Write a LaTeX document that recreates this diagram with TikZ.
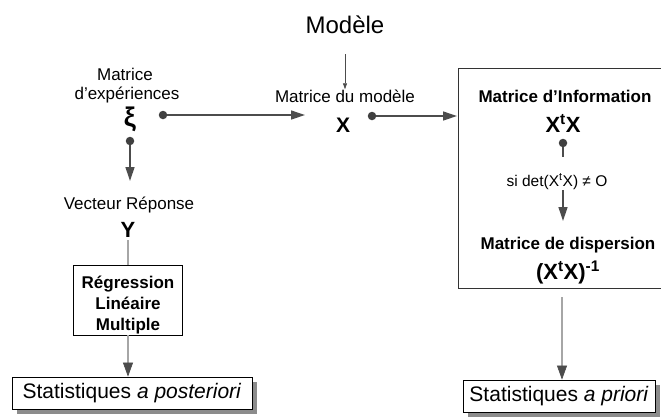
\documentclass[tikz,border=0pt]{standalone}
\usepackage{fontspec}
\setmainfont{Liberation Sans}
\usetikzlibrary{arrows.meta,shadows}
\newcommand{\fsz}[1]{\fontsize{#1}{#1}\selectfont}
\begin{document}
\begin{tikzpicture}[x=1pt,y=-1pt,
  lbl/.style={inner sep=0pt,anchor=base,font=\fsz{17}},
  blbl/.style={inner sep=0pt,anchor=base,font=\fsz{17}\bfseries},
  big/.style={inner sep=0pt,anchor=base,font=\fsz{22}\bfseries},
  dot/.style={circle,fill=black!75,inner sep=0pt,minimum size=8.5pt},
  arr/.style={draw=black!70,line width=1.3pt,-{Triangle[length=14pt,width=9pt]},color=black!70},
  dbl/.style={draw=black!70,double=black!35,double distance=1.6pt,line width=0.6pt},
  darr/.style={dbl,-{Triangle[length=14pt,width=10pt,fill=black!70]}},
  stat/.style={draw=black,fill=white,line width=0.8pt,minimum height=32pt,inner sep=0pt,font=\fsz{21},
     drop shadow={shadow xshift=5pt,shadow yshift=-5pt,fill=black!45,opacity=1}},
]
\useasboundingbox (0,0) rectangle (661,416);

% top
\node[inner sep=0pt,anchor=base,font=\fsz{24}] (mod) at (345,33) {Modèle};
\node[lbl] (mdm) at (345,102) {Matrice du modèle};
\draw[draw=black!70,line width=0.7pt,-{Triangle[length=6pt,width=4pt]},color=black!70] (345,54) -- (mdm.north -| 345,0) ;
\node[inner sep=0pt,anchor=base,font=\fsz{21}\bfseries] (X) at (343,132) {X};

% left
\node[lbl] (mat) at (125,80) {Matrice};
\node[lbl] (dexp) at (127,99) {d’expériences};
\node[inner sep=0pt,anchor=center,font=\fsz{27}\bfseries] (xi) at (130,119) {ξ};
\node[dot] (d1) at (163,115) {};
\coordinate (xin) at (305,115);
\draw[arr] (d1) -- (xin);
\node[dot] (d2) at (130,141) {};
\node[lbl] (vr) at (129,209) {Vecteur Réponse};
\draw[arr] (d2) -- (130,181);
\node[inner sep=0pt,anchor=base,font=\fsz{22}\bfseries] (Y) at (128,237) {Y};

\node[draw=black,line width=0.8pt,fill=white,minimum width=109pt,minimum height=70pt,inner sep=0pt] (reg) at (127.5,300) {};
\node[blbl] at (128,288) {Régression};
\node[blbl] at (128,309) {Linéaire};
\node[blbl] at (128,330) {Multiple};
\draw[dbl] (128,240) -- (reg.north -| 128,0);

\node[stat,minimum width=240pt] (post) at (132,393) {Statistiques \textit{a posteriori}};
\draw[darr] (reg.south -| 128,0) -- (post.north -| 128,0);

% right box
\coordinate (bx) at (457,116);
\draw[line width=0.9pt,black!80] (663,68) -- (458,68) -- (458,288) -- (663,288);
\node[dot] (d3) at (372,116) {};
\draw[arr] (d3) -- (bx);

\node[blbl] (mi) at (565,102) {Matrice d’Information};
\node[big] (xtx) at (563,132) {X\textsuperscript{t}X};
\node[dot] (d4) at (563,143) {};
\draw[draw=black!70,line width=1.3pt] (d4) -- (563,157);
\node[inner sep=0pt,anchor=base,font=\fsz{15.5}] (det) at (557,186) {si det(X\textsuperscript{t}X) ≠ O};
\draw[arr] (563,190) -- (563,221);
\node[blbl] (md) at (568,249) {Matrice de dispersion};
\node[big] (inv) at (568,279) {(X\textsuperscript{t}X)\textsuperscript{-1}};

\node[stat,minimum width=192pt] (pri) at (559,396) {Statistiques \textit{a priori}};
\draw[darr] (562,297) -- (pri.north -| 562,0);
\end{tikzpicture}
\end{document}
